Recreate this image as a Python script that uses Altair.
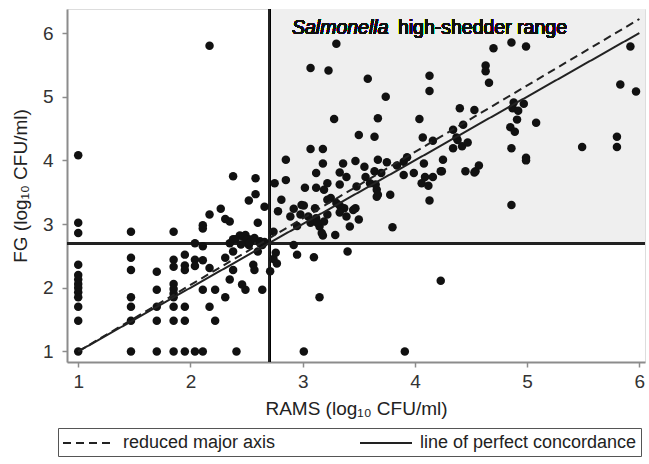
import altair as alt
import pandas as pd

# ---- data (log10 CFU/ml) ----
rams = [
    # x = 1.00
    1.00, 1.00, 1.00, 1.00, 1.00, 1.00, 1.00, 1.00, 1.00, 1.00, 1.00, 1.00, 1.00,
    # x = 1.47
    1.47, 1.47, 1.47, 1.47, 1.47, 1.47, 1.47,
    # x = 1.70
    1.70, 1.70, 1.70, 1.70, 1.70,
    # x = 1.85
    1.85, 1.85, 1.85, 1.85, 1.85, 1.85, 1.85, 1.85, 1.85, 1.85,
    # x = 1.95
    1.95, 1.95, 1.95, 1.95, 1.95, 1.95,
    # x = 2.04
    2.04, 2.04, 2.04, 2.04,
    # x = 2.11
    2.11, 2.11, 2.11, 2.11, 2.11, 2.11,
    # 2.15 - 2.70
    2.17, 2.17, 2.17, 2.17, 2.22, 2.22, 2.27, 2.31, 2.31, 2.31, 2.35, 2.35,
    2.38, 2.38, 2.38, 2.38, 2.41, 2.44, 2.46, 2.49, 2.49, 2.52, 2.52, 2.52,
    2.56, 2.57, 2.58, 2.58, 2.60, 2.60, 2.62, 2.64, 2.64, 2.66, 2.71,
    2.40, 2.47, 2.50, 2.53, 2.57, 2.62, 2.66, 2.45, 2.35,
    # right of threshold, below horizontal line
    2.74, 2.77, 2.92, 2.95, 3.10, 3.40, 3.15, 4.23, 3.01, 3.91, 2.76,
    # upper right region
    2.75, 2.85, 2.85, 2.81, 2.78, 2.74,
    3.30, 3.07, 3.23, 3.58, 4.13, 4.13, 3.74, 3.28, 3.67, 4.04, 3.50, 3.64,
    3.07, 3.18, 4.07, 4.16, 4.40, 4.53,
    3.18, 3.12, 3.36, 3.47, 3.55, 3.33, 3.39, 3.56,
    3.02, 3.12, 3.19, 3.22, 3.33, 3.48, 3.60, 3.66, 3.66,
    3.22, 3.30, 3.33, 3.37, 3.45, 2.92, 3.01, 3.11, 2.89, 2.98, 3.05, 3.12,
    3.07, 3.15, 3.19, 3.33, 3.39, 3.42, 3.50, 3.29, 3.18, 2.95,
    2.99, 3.25, 3.13, 3.17, 3.22, 3.47,
    3.67, 3.78, 3.80, 4.13,
    4.34, 4.42, 4.47, 4.38,
    3.67, 3.75, 3.84, 3.90, 3.93, 4.08, 4.25, 3.64, 3.70, 3.90, 3.99, 4.23,
    4.09, 4.16, 4.06, 4.12, 3.65, 4.45, 4.54, 4.57, 4.24,
    4.70, 4.86, 4.99, 4.63, 4.63, 4.66, 5.92, 5.83, 5.97,
    4.88, 4.97, 4.87, 4.92, 4.91, 4.85, 4.89, 5.08, 4.86, 4.99, 4.99,
    5.49, 5.80, 5.80, 4.53, 4.86, 4.34, 4.43, 4.37,
]
fg = [
    4.08, 3.02, 2.86, 2.36, 2.20, 2.13, 2.06, 2.00, 1.93, 1.85, 1.70, 1.48, 1.00,
    2.88, 2.47, 2.28, 1.85, 1.70, 1.48, 1.00,
    2.25, 1.97, 1.70, 1.48, 1.00,
    2.88, 2.44, 2.33, 2.06, 1.98, 1.91, 1.85, 1.70, 1.48, 1.00,
    2.52, 2.35, 2.28, 1.70, 1.48, 1.00,
    2.70, 2.44, 2.34, 1.00,
    2.98, 2.93, 2.65, 2.43, 1.97, 1.00,
    5.80, 3.15, 2.31, 1.70, 1.97, 1.48, 3.24, 3.08, 2.47, 1.85, 3.04, 2.13,
    3.75, 2.76, 2.57, 2.28, 1.00, 2.82, 2.05, 2.83, 1.97, 3.37, 2.76, 2.67,
    2.36, 2.28, 3.72, 3.47, 3.02, 2.57, 2.73, 1.97, 2.67, 3.27, 2.26,
    2.76, 2.80, 2.75, 2.71, 2.78, 2.70, 2.72, 2.68, 2.70,
    2.45, 2.38, 2.67, 2.52, 2.48, 2.57, 1.85, 2.11, 1.00, 1.00, 2.55,
    3.64, 4.01, 3.69, 3.38, 3.20, 2.88,
    5.83, 5.45, 5.41, 5.28, 5.33, 5.09, 5.00, 4.65, 4.66, 4.65, 4.40, 4.37,
    4.18, 4.18, 4.36, 4.31, 4.82, 4.79,
    3.95, 3.80, 3.95, 3.99, 3.90, 3.81, 3.74, 3.74,
    3.57, 3.57, 3.54, 3.64, 3.62, 3.59, 3.64, 3.54, 3.43,
    3.38, 3.33, 3.29, 3.25, 3.22, 3.24, 3.29, 3.25, 3.12, 3.15, 3.12, 3.09,
    3.02, 2.96, 3.04, 3.18, 3.12, 2.96, 3.07, 2.83, 2.82, 2.97,
    3.30, 3.41, 3.02, 2.86, 3.15, 3.25,
    3.46, 3.46, 2.95, 3.37,
    4.19, 4.22, 4.28, 4.32,
    4.01, 3.97, 3.92, 3.98, 4.05, 3.95, 4.01, 3.83, 3.80, 3.77, 3.80, 3.83,
    3.74, 3.74, 3.64, 3.60, 3.62, 3.83, 3.83, 3.92, 3.83,
    5.76, 5.85, 5.79, 5.49, 5.40, 5.22, 5.79, 5.19, 5.08,
    4.91, 4.89, 4.82, 4.78, 4.64, 4.52, 4.45, 4.59, 4.19, 4.04, 4.00,
    4.21, 4.37, 4.21, 3.81, 3.30, 4.48, 4.56, 4.36,
]

line_names = ["reduced major axis", "line of perfect concordance"]
line_x = [1.0, 6.0]
rma_y = [1.00, 6.22]
conc_y = [1.00, 6.00]

threshold = 2.7
x_domain = [0.9, 6.05]
y_domain = [0.834, 6.377]
x_ticks = [1, 2, 3, 4, 5, 6]
y_ticks = [1, 2, 3, 4, 5, 6]

points = pd.DataFrame({"RAMS": rams, "FG": fg})
lines = pd.DataFrame({
    "RAMS": line_x + line_x,
    "FG": rma_y + conc_y,
    "series": [line_names[0]] * 2 + [line_names[1]] * 2,
})

W, H = 578, 353
FONT = "Liberation Sans"

xs = alt.Scale(domain=x_domain, nice=False, zero=False)
ys = alt.Scale(domain=y_domain, nice=False, zero=False)

x_axis = alt.Axis(values=x_ticks, format="d", title="RAMS (log₁₀ CFU/ml)", grid=False,
                  domainColor="#8c8c8c", domainWidth=2, tickColor="#8c8c8c",
                  tickWidth=1.5, tickSize=5, labelFontSize=19, labelColor="#333333",
                  labelPadding=5, titleFontSize=19, titleFontWeight="normal",
                  titleColor="#222222", titlePadding=8, labelFont=FONT, titleFont=FONT)
y_axis = alt.Axis(values=y_ticks, format="d", title="FG (log₁₀ CFU/ml)", grid=False,
                  domainColor="#8c8c8c", domainWidth=2, tickColor="#8c8c8c",
                  tickWidth=1.5, tickSize=5, labelFontSize=19, labelColor="#333333",
                  labelPadding=9, titleFontSize=19, titleFontWeight="normal",
                  titleColor="#222222", titlePadding=12, labelFont=FONT, titleFont=FONT)

shade = alt.Chart(points).mark_rect(color="#efefef").encode(
    x=alt.datum(threshold, scale=xs, axis=x_axis),
    x2=alt.value(W),
    y=alt.datum(threshold, scale=ys, axis=y_axis),
    y2=alt.value(0),
)

vrule = alt.Chart(points).mark_rule(color="#222222", strokeWidth=2).encode(
    x=alt.datum(threshold, scale=xs), y=alt.value(0), y2=alt.value(H))
hrule = alt.Chart(points).mark_rule(color="#222222", strokeWidth=2).encode(
    y=alt.datum(threshold, scale=ys), x=alt.value(0), x2=alt.value(W))

dots = alt.Chart(points).mark_circle(size=72, color="#111111", opacity=1).encode(
    x=alt.X("RAMS:Q", scale=xs, axis=x_axis),
    y=alt.Y("FG:Q", scale=ys, axis=y_axis),
)

line_layer = alt.Chart(lines).mark_line(color="#222222", strokeWidth=2).encode(
    x=alt.X("RAMS:Q", scale=xs),
    y=alt.Y("FG:Q", scale=ys),
    strokeDash=alt.StrokeDash(
        "series:N",
        scale=alt.Scale(domain=line_names, range=[[8, 5], [1, 0]]),
        legend=alt.Legend(
            title=None, orient="none", legendX=-9, legendY=419,
            direction="horizontal", symbolType="M-1,0H4.2", symbolSize=400,
            symbolStrokeColor="#222222", symbolStrokeWidth=2,
            symbolFillColor="transparent",
            labelFontSize=18, labelFont=FONT, labelColor="#222222",
            strokeColor="#555555", fillColor="white", padding=4,
            columnPadding=80, labelOffset=39, labelLimit=400,
        ),
    ),
    detail="series:N",
)

txt1 = alt.Chart(points).mark_text(text="Salmonella", fontStyle="italic", fontSize=19.5,
                                   font=FONT, align="left", baseline="alphabetic",
                                   color="#111111").encode(
    x=alt.value(225), y=alt.value(25))
txt2 = alt.Chart(points).mark_text(text="high-shedder range", fontSize=19.5, font=FONT,
                                   align="right", baseline="alphabetic",
                                   color="#111111").encode(
    x=alt.value(500), y=alt.value(25))

chart = alt.layer(shade, vrule, hrule, dots, line_layer, txt1, txt2).properties(
    width=W, height=H,
    autosize=alt.AutoSizeParams(type="none"),
    padding={"left": 67, "top": 9, "right": 4, "bottom": 102},
).configure_view(stroke=None).configure(background="white")

chart.save("out.html", embed_options={"renderer": "svg", "actions": False})
